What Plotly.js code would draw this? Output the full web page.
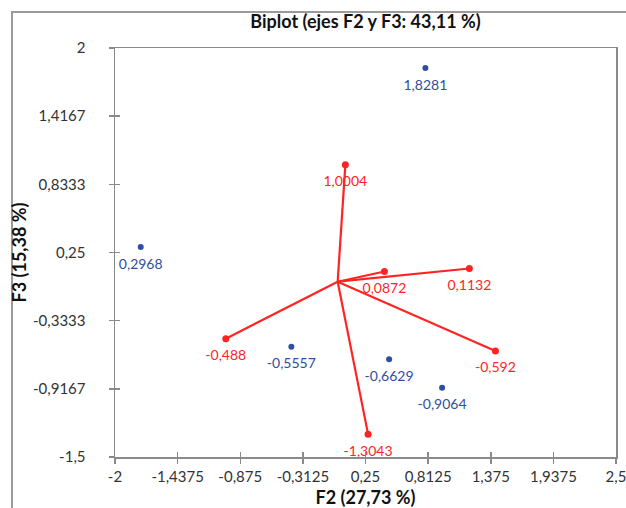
<!DOCTYPE html>
<html><head><meta charset="utf-8">
<script src="https://cdn.plot.ly/plotly-3.0.1.min.js"></script>
<style>html,body{margin:0;padding:0;background:#fff}</style>
</head><body><div id="chart" style="width:626px;height:508px"></div>
<script>
const obsX = [0.788, -1.769, -0.416, 0.462, 0.938];
const obsY = [1.8281, 0.2968, -0.5557, -0.6629, -0.9064];
const varX = [0.069, 0.420, 1.183, 1.417, -1.005, 0.273];
const varY = [1.0004, 0.0872, 0.1132, -0.592, -0.488, -1.3043];
const xTicks = [-2, -1.4375, -0.875, -0.3125, 0.25, 0.8125, 1.375, 1.9375, 2.5];
const xTickText = ["-2","-1,4375","-0,875","-0,3125","0,25","0,8125","1,375","1,9375","2,5"];
const yTicks = [-1.5, -0.9167, -0.3333, 0.25, 0.8333, 1.4167, 2];
const yTickText = ["-1,5","-0,9167","-0,3333","0,25","0,8333","1,4167","2"];
const titleText = "Biplot (ejes F2 y F3: 43,11 %)";
const xTitle = "F2 (27,73 %)";
const yTitle = "F3 (15,38 %)";

const fmt = v => String(v).replace('.', ',');
const BLUE = '#2F4EA2', RED = '#FF2424';
const FONT = 'Lato, "Open Sans", sans-serif';

const lx = [], ly = [];
varX.forEach((x, i) => { lx.push(0, x, null); ly.push(0, varY[i], null); });

const traces = [
  {x: lx, y: ly, mode: 'lines', line: {color: RED, width: 2.2}, hoverinfo: 'skip', showlegend: false},
  {x: varX, y: varY, mode: 'markers', marker: {color: RED, size: 7}, cliponaxis: false, showlegend: false},
  {x: obsX, y: obsY, mode: 'markers', marker: {color: BLUE, size: 6}, cliponaxis: false, showlegend: false},
  {x: varX, y: varY, mode: 'markers+text', text: varY.map(fmt), textposition: 'bottom center',
   marker: {size: 16, opacity: 0}, textfont: {color: RED, size: 14, family: FONT}, cliponaxis: false, showlegend: false},
  {x: obsX, y: obsY, mode: 'markers+text', text: obsY.map(fmt), textposition: 'bottom center',
   marker: {size: 16, opacity: 0}, textfont: {color: BLUE, size: 14, family: FONT}, cliponaxis: false, showlegend: false},
  {x: [0], y: [0], xaxis: 'x2', yaxis: 'y2', mode: 'markers', marker: {opacity: 0}, hoverinfo: 'skip', showlegend: false}
];

const AX = '#8A8A8A';
const layout = {
  width: 626, height: 508,
  margin: {l: 115, r: 10, t: 48, b: 51},
  paper_bgcolor: '#fff', plot_bgcolor: '#fff',
  separators: ',.',
  font: {family: FONT, color: '#333', size: 14},
  title: {text: '<b>' + titleText + '</b>', xref: 'paper', x: 0.5, xanchor: 'center',
          yref: 'container', y: 0.957, yanchor: 'middle', font: {size: 18, color: '#111', family: FONT}},
  xaxis: {range: [-2, 2.5], tickvals: xTicks, ticktext: xTickText, ticks: 'outside', ticklen: 5,
          tickcolor: AX, tickwidth: 1.5, showline: true, linecolor: AX, linewidth: 1.5, mirror: true,
          showgrid: false, zeroline: false, tickfont: {size: 15, color: '#333'}, ticklabeloverflow: 'allow',
          title: {text: '<b>' + xTitle + '</b>', font: {size: 18, color: '#111'}, standoff: 14}},
  yaxis: {range: [-1.5, 2], tickvals: yTicks, ticktext: yTickText, ticks: 'outside', ticklen: 5,
          tickcolor: AX, tickwidth: 1.5, showline: true, linecolor: AX, linewidth: 1.5, mirror: true,
          showgrid: false, zeroline: false, tickfont: {size: 15, color: '#333'}, ticklabelstandoff: 20,
          ticklabeloverflow: 'allow',
          title: {text: '<b>' + yTitle + '</b>', font: {size: 18, color: '#111'}, standoff: 1}},
  xaxis2: {overlaying: 'x', matches: 'x', range: [-2, 2.5], tickvals: xTicks, ticks: 'inside', ticklen: 5,
           tickcolor: AX, tickwidth: 1.5, showticklabels: false, showline: false, showgrid: false, zeroline: false},
  yaxis2: {overlaying: 'y', range: [-1.5, 2], tickvals: yTicks, ticks: 'inside', ticklen: 5,
           tickcolor: AX, tickwidth: 1.5, showticklabels: false, showline: false, showgrid: false, zeroline: false},
  shapes: [{type: 'rect', xref: 'paper', yref: 'paper',
            x0: (12 - 115) / 501, x1: (640 - 115) / 501, y0: (457 - 530) / 409, y1: (457 - 12) / 409,
            line: {color: '#9A9A9A', width: 2}, fillcolor: 'rgba(0,0,0,0)', layer: 'below'}]
};
Plotly.newPlot('chart', traces, layout, {displayModeBar: false, staticPlot: true});
</script></body></html>
